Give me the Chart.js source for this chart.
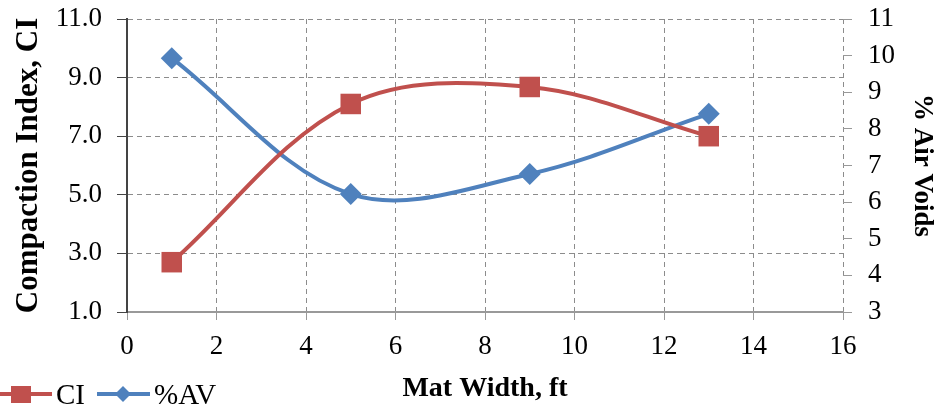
<!DOCTYPE html>
<html>
<head>
<meta charset="utf-8">
<script src="https://cdn.jsdelivr.net/npm/chart.js@4/dist/chart.umd.min.js"></script>
<style>
  html, body { margin: 0; padding: 0; background: #fff; }
  canvas { display: block; }
</style>
</head>
<body>
<canvas id="chart" width="938" height="409"></canvas>
<script>
// ==========================================================================
// DATA
// ==========================================================================
const matWidth = [1, 5, 9, 13];
const ciValues = [2.7, 8.1, 8.68, 7.0];
const avValues = [9.93, 6.22, 6.77, 8.41];
const seriesLabels = ['CI', '%AV'];

const xTitle = 'Mat Width, ft';
const leftTitle = 'Compaction Index, CI';
const rightTitle = '% Air Voids';

const RED = '#C0504D';
const BLUE = '#4F81BD';
const SERIF = "'Liberation Serif', 'Times New Roman', serif";

// Custom legend: bottom-left, clipped at the edges like the original figure
const legendPlugin = {
    id: 'bottomLegend',
    afterDraw(chart) {
        const ctx = chart.ctx;
        const ds = chart.data.datasets;
        const y = 394;
        const items = [
            { x0: -10, x1: 52, cx: 21, tx: 56 },
            { x0: 97, x1: 150, cx: 123, tx: 154 }
        ];
        ctx.save();
        ctx.font = '29px ' + SERIF;
        ctx.textBaseline = 'alphabetic';
        items.forEach((it, i) => {
            const color = ds[i].borderColor;
            ctx.strokeStyle = color;
            ctx.lineWidth = 4;
            ctx.beginPath();
            ctx.moveTo(it.x0, y);
            ctx.lineTo(it.x1, y);
            ctx.stroke();
            ctx.fillStyle = color;
            if (ds[i].pointStyle === 'rect') {
                ctx.fillRect(it.cx - 10, y - 8, 20, 17);
            } else {
                ctx.beginPath();
                ctx.moveTo(it.cx, y - 8);
                ctx.lineTo(it.cx + 8, y);
                ctx.lineTo(it.cx, y + 8);
                ctx.lineTo(it.cx - 8, y);
                ctx.closePath();
                ctx.fill();
            }
            ctx.fillStyle = '#000';
            ctx.fillText(ds[i].label, it.tx, 404);
        });
        ctx.restore();
    }
};

const gridDash = [5, 4];

// fixed axis sizes so the plot area lands where the original's does
const fitVertical = (w) => (s) => {
    s.width = w;
    s.paddingTop = 0;
    s.paddingBottom = 0;
};

new Chart(document.getElementById('chart'), {
    type: 'line',
    data: {
        datasets: [
            {
                label: seriesLabels[0],
                data: matWidth.map((x, i) => ({ x: x, y: ciValues[i] })),
                yAxisID: 'y',
                borderColor: RED,
                backgroundColor: RED,
                borderWidth: 4,
                pointStyle: 'rect',
                pointRadius: 14.5,
                pointBorderWidth: 0,
                tension: 0.35
            },
            {
                label: seriesLabels[1],
                data: matWidth.map((x, i) => ({ x: x, y: avValues[i] })),
                yAxisID: 'y2',
                borderColor: BLUE,
                backgroundColor: BLUE,
                borderWidth: 4,
                pointStyle: 'rectRot',
                pointRadius: 11,
                pointBorderWidth: 0,
                tension: 0.35
            }
        ]
    },
    options: {
        responsive: false,
        animation: false,
        devicePixelRatio: 1,
        layout: { autoPadding: false, padding: { top: 19, left: 0, right: 0, bottom: 0 } },
        plugins: {
            legend: { display: false },
            tooltip: { enabled: false }
        },
        scales: {
            x: {
                type: 'linear',
                min: 0, max: 16,
                ticks: {
                    stepSize: 2,
                    autoSkip: false,
                    color: '#000',
                    padding: 11,
                    font: { family: SERIF, size: 27 }
                },
                grid: { color: '#8c8c8c', tickColor: '#999', tickLength: 8 },
                border: { color: '#999', width: 2, dash: gridDash },
                title: {
                    display: true,
                    text: xTitle,
                    color: '#000',
                    font: { family: SERIF, size: 28, weight: 'bold' },
                    padding: { top: 0, bottom: 3 }
                },
                afterFit: (s) => { s.height = 97; s.paddingLeft = 0; s.paddingRight = 0; }
            },
            y: {
                position: 'left',
                min: 1, max: 11,
                ticks: {
                    stepSize: 2,
                    autoSkip: false,
                    color: '#000',
                    padding: 15,
                    font: { family: SERIF, size: 27 },
                    callback: (v) => v.toFixed(1)
                },
                grid: { color: '#8c8c8c', tickColor: '#444', tickLength: 10 },
                border: { color: '#444', width: 2, dash: gridDash },
                title: {
                    display: true,
                    text: leftTitle,
                    color: '#000',
                    font: { family: SERIF, size: 31, weight: 'bold' },
                    padding: { top: 10, bottom: 0 }
                },
                afterFit: fitVertical(127)
            },
            y2: {
                position: 'right',
                min: 3, max: 11,
                ticks: {
                    stepSize: 1,
                    autoSkip: false,
                    color: '#000',
                    padding: 16,
                    font: { family: SERIF, size: 27 }
                },
                grid: { drawOnChartArea: false, color: '#999', tickLength: 9 },
                border: { display: false },
                title: {
                    display: true,
                    text: rightTitle,
                    color: '#000',
                    font: { family: SERIF, size: 27, weight: 'bold' },
                    padding: { top: 0, bottom: 0 }
                },
                afterFit: fitVertical(95)
            }
        }
    },
    plugins: [legendPlugin]
});
</script>
</body>
</html>
